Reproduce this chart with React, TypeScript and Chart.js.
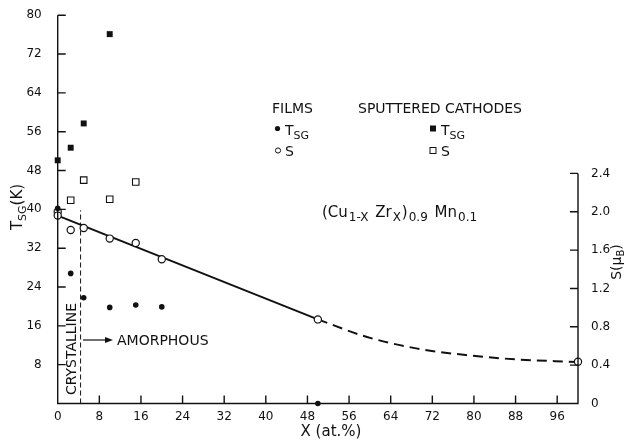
import React, { useEffect, useRef } from "react";
import { Chart, registerables } from "chart.js";

Chart.register(...registerables);

// ---- data ----
const xTicks = [0, 8, 16, 24, 32, 40, 48, 56, 64, 72, 80, 88, 96];
const tsgTicks = [8, 16, 24, 32, 40, 48, 56, 64, 72, 80];
const sTicks = [0, 0.4, 0.8, 1.2, 1.6, 2.0, 2.4];

// films, T_SG (filled circles)
const filmX = [0, 2.5, 5, 10, 15, 20, 50];
const filmTsg = [40.2, 26.8, 21.8, 19.8, 20.3, 19.9, 0];
// sputtered cathodes, T_SG (filled squares)
const cathX = [0, 2.5, 5, 10];
const cathTsg = [50.1, 52.7, 57.7, 76.1];
// films, S (open circles)
const filmSX = [0, 0, 2.5, 5, 10, 15, 20, 50, 100];
const filmS = [2.0, 1.96, 1.81, 1.83, 1.72, 1.675, 1.505, 0.877, 0.435];
// sputtered cathodes, S (open squares)
const cathSX = [2.5, 5, 10, 15];
const cathS = [2.12, 2.33, 2.13, 2.31];
// fitted line (solid) and extrapolation (dashed)
const fitX = [0, 50];
const fitS = [1.96, 0.877];
const extX = [50, 59.3, 68.9, 78.5, 88.1, 100];
const extS = [0.877, 0.696, 0.575, 0.505, 0.46, 0.433];
// crystalline / amorphous boundary
const boundaryX = [4.4, 4.4];
const boundaryT = [0, 39.8];

const FONT = "'DejaVu Sans', sans-serif";
const INK = "#111";

const pts = (xs: number[], ys: number[]) => xs.map((x, i) => ({ x, y: ys[i] }));

type Seg = [string, number, number]; // text, size, dy

function rich(ctx: CanvasRenderingContext2D, parts: Seg[], x: number, y: number, align: "left" | "center" = "left", gap = 0) {
  let total = 0;
  const widths = parts.map(([t, s]) => {
    ctx.font = `${s}px ${FONT}`;
    const w = ctx.measureText(t).width;
    total += w;
    return w;
  });
  total += gap * (parts.length - 1);
  let cx = align === "center" ? x - total / 2 : x;
  ctx.textAlign = "left";
  ctx.textBaseline = "alphabetic";
  parts.forEach(([t, s, dy], i) => {
    ctx.font = `${s}px ${FONT}`;
    ctx.fillText(t, cx, y + dy);
    cx += widths[i] + gap;
  });
}

const decorPlugin = {
  id: "decor",
  afterDraw(chart: any) {
    const ctx: CanvasRenderingContext2D = chart.ctx;
    const { left: L, right: R, top: T, bottom: B } = chart.chartArea;
    const x = chart.scales.x;
    const y = chart.scales.y;
    const y2 = chart.scales.y2;
    ctx.save();
    ctx.strokeStyle = INK;
    ctx.fillStyle = INK;
    ctx.lineWidth = 1.4;
    // axis lines
    ctx.beginPath();
    ctx.moveTo(L, T);
    ctx.lineTo(L, B);
    ctx.lineTo(R, B);
    ctx.lineTo(R, y2.getPixelForValue(sTicks[sTicks.length - 1]));
    ctx.stroke();
    // inward ticks
    ctx.beginPath();
    tsgTicks.forEach((v) => {
      const p = y.getPixelForValue(v);
      ctx.moveTo(L, p);
      ctx.lineTo(L + 8, p);
    });
    xTicks.filter((v) => v > 0).forEach((v) => {
      const p = x.getPixelForValue(v);
      ctx.moveTo(p, B);
      ctx.lineTo(p, B - 8);
    });
    sTicks.filter((v) => v > 0).forEach((v) => {
      const p = y2.getPixelForValue(v);
      ctx.moveTo(R, p);
      ctx.lineTo(R - 8, p);
    });
    ctx.stroke();

    // axis titles
    ctx.save();
    ctx.translate(17, 207);
    ctx.rotate(-Math.PI / 2);
    rich(ctx, [["T", 15, 5], ["SG", 11, 9], ["(K)", 15, 5]], 0, 0, "center");
    ctx.restore();

    ctx.save();
    ctx.translate(616, 262);
    ctx.rotate(-Math.PI / 2);
    rich(ctx, [["S(μ", 14, 5], ["B", 10, 8], [")", 14, 5]], 0, 0, "center");
    ctx.restore();

    rich(ctx, [["X (at.%)", 15, 0]], 331, 436, "center");

    // legend
    rich(ctx, [["FILMS", 14, 0]], 272, 113);
    rich(ctx, [["SPUTTERED CATHODES", 14, 0]], 358, 113);
    ctx.beginPath();
    ctx.arc(277.5, 128.5, 2.6, 0, Math.PI * 2);
    ctx.fill();
    rich(ctx, [["T", 14, 0], ["SG", 11, 4]], 285, 135);
    ctx.lineWidth = 1;
    ctx.beginPath();
    ctx.arc(278, 150.5, 2.6, 0, Math.PI * 2);
    ctx.stroke();
    rich(ctx, [["S", 14, 0]], 285, 156);
    ctx.fillRect(430, 125.5, 6, 6);
    rich(ctx, [["T", 14, 0], ["SG", 11, 4]], 441, 135);
    ctx.strokeRect(430, 147.5, 6, 6);
    rich(ctx, [["S", 14, 0]], 441, 156);

    // formula
    rich(
      ctx,
      [
        ["(Cu", 15, 0],
        ["1-X", 12, 4],
        [" ", 15, 0],
        ["Zr", 15, 0],
        ["X", 12, 4],
        [")", 15, 0],
        ["0.9", 12, 4],
        [" ", 15, 0],
        ["Mn", 15, 0],
        ["0.1", 12, 4],
      ],
      322,
      217,
      "left",
      1
    );

    // CRYSTALLINE (rotated)
    ctx.save();
    ctx.translate(72.5, 349);
    ctx.rotate(-Math.PI / 2);
    ctx.font = `14px ${FONT}`;
    ctx.textAlign = "center";
    ctx.textBaseline = "middle";
    ctx.fillText("CRYSTALLINE", 0, 0);
    ctx.restore();

    // arrow + AMORPHOUS
    ctx.lineWidth = 1.2;
    ctx.beginPath();
    ctx.moveTo(83, 340);
    ctx.lineTo(106, 340);
    ctx.stroke();
    ctx.beginPath();
    ctx.moveTo(113, 340);
    ctx.lineTo(105, 337);
    ctx.lineTo(105, 343);
    ctx.closePath();
    ctx.fill();
    ctx.font = `14px ${FONT}`;
    ctx.textAlign = "left";
    ctx.textBaseline = "middle";
    ctx.fillText("AMORPHOUS", 117, 341);

    ctx.restore();
  },
};

export default function App() {
  const ref = useRef<HTMLCanvasElement | null>(null);
  useEffect(() => {
    if (!ref.current) return;
    const tickFont = { family: FONT, size: 12 };
    const chart = new Chart(ref.current, {
      type: "scatter",
      data: {
        datasets: [
          {
            label: "Films TSG",
            data: pts(filmX, filmTsg),
            yAxisID: "y",
            pointStyle: "circle",
            pointRadius: 2.8,
            backgroundColor: INK,
            borderColor: INK,
            borderWidth: 0,
            clip: false,
          },
          {
            label: "Cathodes TSG",
            data: pts(cathX, cathTsg),
            yAxisID: "y",
            pointStyle: "rect",
            pointRadius: 4.2,
            backgroundColor: INK,
            borderColor: INK,
            borderWidth: 0,
            clip: false,
          },
          {
            label: "Films S",
            data: pts(filmSX, filmS),
            yAxisID: "y2",
            pointStyle: "circle",
            pointRadius: 3.6,
            backgroundColor: "#fff",
            borderColor: INK,
            borderWidth: 1.2,
            clip: false,
          },
          {
            label: "Cathodes S",
            data: pts(cathSX, cathS),
            yAxisID: "y2",
            pointStyle: "rect",
            pointRadius: 4.6,
            backgroundColor: "#fff",
            borderColor: INK,
            borderWidth: 1.1,
            clip: false,
          },
          {
            label: "fit",
            data: pts(fitX, fitS),
            yAxisID: "y2",
            showLine: true,
            pointRadius: 0,
            borderColor: INK,
            borderWidth: 2,
            clip: false,
          },
          {
            label: "extrapolation",
            data: pts(extX, extS),
            yAxisID: "y2",
            showLine: true,
            pointRadius: 0,
            borderColor: INK,
            borderWidth: 2,
            borderDash: [10, 6],
            cubicInterpolationMode: "monotone",
            clip: false,
          },
          {
            label: "boundary",
            data: pts(boundaryX, boundaryT),
            yAxisID: "y",
            showLine: true,
            pointRadius: 0,
            borderColor: INK,
            borderWidth: 1,
            borderDash: [5, 3],
            clip: false,
          },
        ],
      },
      options: {
        responsive: false,
        animation: false,
        devicePixelRatio: 1,
        layout: { padding: { top: 14.5, left: 0, right: 0, bottom: 0 } },
        plugins: { legend: { display: false }, tooltip: { enabled: false } },
        scales: {
          x: {
            type: "linear",
            position: "bottom",
            min: 0,
            max: 100,
            grid: { display: false },
            border: { display: false },
            ticks: { font: tickFont, color: INK, padding: -2, maxRotation: 0, autoSkip: false, callback: (v: any) => String(v) },
            afterBuildTicks: (s: any) => {
              s.ticks = xTicks.map((v) => ({ value: v }));
            },
            afterFit: (s: any) => {
              s.height = 36.5;
            },
          },
          y: {
            type: "linear",
            position: "left",
            min: 0,
            max: 80,
            grid: { display: false },
            border: { display: false },
            ticks: { font: tickFont, color: INK, padding: 8, autoSkip: false, callback: (v: any) => String(v) },
            afterBuildTicks: (s: any) => {
              s.ticks = tsgTicks.map((v) => ({ value: v }));
            },
            afterFit: (s: any) => {
              s.width = 57.7;
            },
          },
          y2: {
            type: "linear",
            position: "right",
            min: 0,
            max: 4.05,
            grid: { display: false },
            border: { display: false },
            ticks: {
              font: tickFont,
              color: INK,
              padding: 5,
              autoSkip: false,
              callback: (v: any) => (v === 0 ? "0" : Number(v).toFixed(1)),
            },
            afterBuildTicks: (s: any) => {
              s.ticks = sTicks.map((v) => ({ value: v }));
            },
            afterFit: (s: any) => {
              s.width = 48;
            },
          },
        },
      },
      plugins: [decorPlugin],
    } as any);
    return () => chart.destroy();
  }, []);

  return (
    <div style={{ position: "fixed", left: 0, top: 0, width: 626, height: 440, background: "#fff" }}>
      <canvas ref={ref} width={626} height={440} style={{ display: "block", width: 626, height: 440 }} />
    </div>
  );
}
